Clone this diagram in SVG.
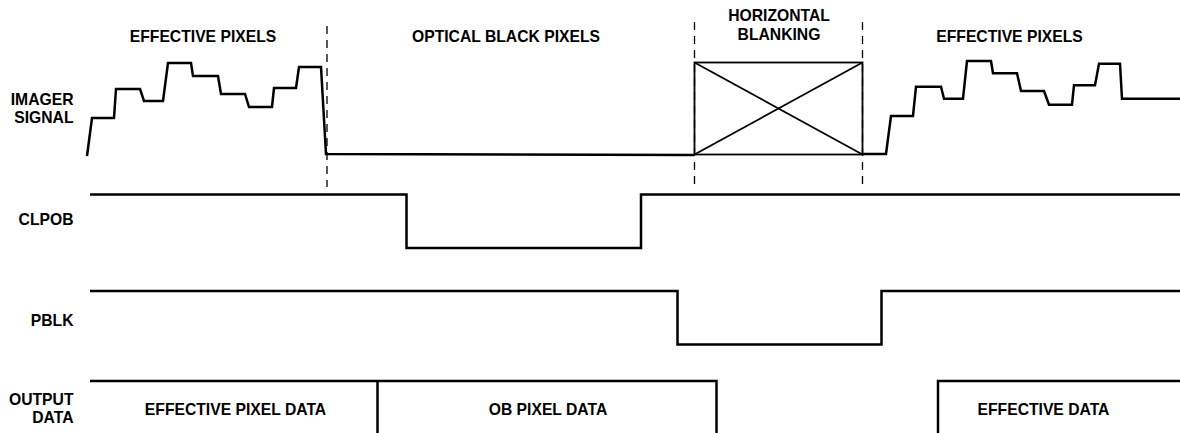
<svg xmlns="http://www.w3.org/2000/svg" width="1180" height="433" viewBox="0 0 1180 433">
<style>
text{font-family:"Liberation Sans",Arial,Helvetica,sans-serif;font-weight:bold;font-size:15.7px;fill:#000}
.m{text-anchor:middle}
.r{text-anchor:end}
.w{fill:none;stroke:#000;stroke-width:2.5;stroke-linejoin:miter}
.b{fill:none;stroke:#000;stroke-width:1.8}
.d{fill:none;stroke:#000;stroke-width:1.3;stroke-dasharray:8 6}
</style>
<rect width="1180" height="433" fill="#fff"/>
<g id="labels">
<text class="r" x="73.5" y="104.5">IMAGER</text>
<text class="r" x="73.5" y="122.7">SIGNAL</text>
<text class="r" x="73.5" y="224.5">CLPOB</text>
<text class="r" x="73.5" y="326">PBLK</text>
<text class="r" x="73.5" y="405">OUTPUT</text>
<text class="r" x="73.5" y="423">DATA</text>
</g>
<g id="region-labels">
<text class="m" x="203" y="41.5">EFFECTIVE PIXELS</text>
<text class="m" x="506" y="41.5">OPTICAL BLACK PIXELS</text>
<text class="m" x="779" y="21">HORIZONTAL</text>
<text class="m" x="779" y="40">BLANKING</text>
<text class="m" x="1009.5" y="41.5">EFFECTIVE PIXELS</text>
</g>
<g id="dividers">
<line class="d" x1="327" y1="26" x2="327" y2="187"/>
<line class="d" x1="694.5" y1="22" x2="694.5" y2="187"/>
<line class="d" x1="862.5" y1="22" x2="862.5" y2="187"/>
</g>
<g id="imager-signal">
<polyline class="w" points="87,156 92,118 114,118 116,89 140,89 144,101 163,101 168,63 191,63 193,76 218,76 221,94 245,94 249,107 272,107 274,88 296,88 299,67 321,67 326,154 694,155"/>
<rect class="b" x="694.5" y="62.5" width="168" height="92"/>
<line class="b" x1="694.5" y1="62.5" x2="862.5" y2="154.5"/>
<line class="b" x1="694.5" y1="154.5" x2="862.5" y2="62.5"/>
<polyline class="w" points="862,154 886,154 891,116 913,116 916,86.7 941,86.7 944,98.7 963,98.7 967,61 991,61 993,73.3 1017,73.3 1021,91 1044,91 1049,104.7 1072,104.7 1074,85.3 1095,85.3 1099,63.7 1120,63.7 1122,98.7 1180,98.7"/>
</g>
<g id="clpob">
<polyline class="w" points="90,194.5 406.5,194.5 406.5,248 641,248 641,194.5 1180,194.5"/>
</g>
<g id="pblk">
<polyline class="w" points="90,291 677.5,291 677.5,344.5 881.5,344.5 881.5,291 1180,291"/>
</g>
<g id="output-data">
<polyline class="w" points="90,381 716.5,381 716.5,433"/>
<line class="w" x1="377.5" y1="381" x2="377.5" y2="433"/>
<polyline class="w" points="938,433 938,381 1180,381"/>
<text class="m" x="235.5" y="415">EFFECTIVE PIXEL DATA</text>
<text class="m" x="548" y="415">OB PIXEL DATA</text>
<text class="m" x="1043.5" y="415">EFFECTIVE DATA</text>
</g>
</svg>
